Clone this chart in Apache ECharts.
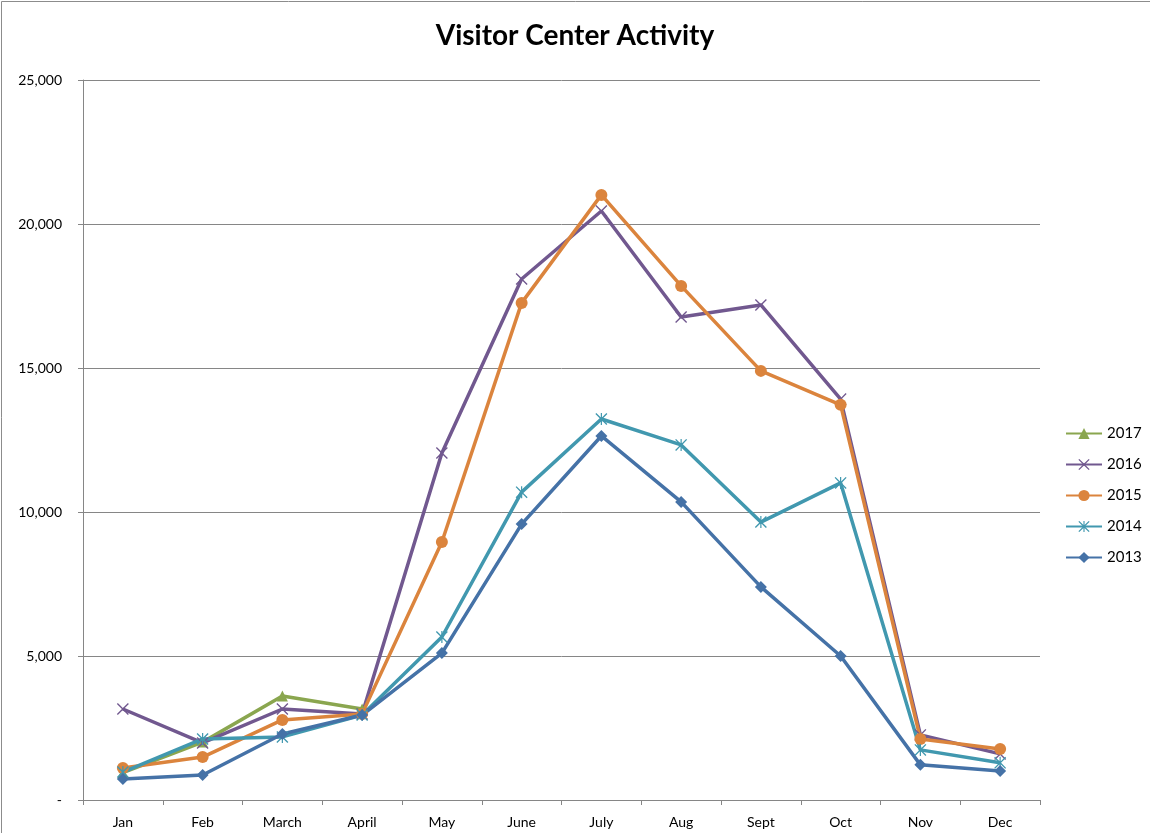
<!DOCTYPE html>
<html>
<head>
<meta charset="utf-8">
<script src="https://cdn.jsdelivr.net/npm/echarts@6/dist/echarts.min.js"></script>
<style>
  body { margin: 0; background: #fff; }
  #chart { width: 1150px; height: 833px; }
</style>
</head>
<body>
<div id="chart"></div>
<script>
let months = ['Jan', 'Feb', 'March', 'April', 'May', 'June', 'July', 'Aug', 'Sept', 'Oct', 'Nov', 'Dec'];

let y2017 = [950, 2010, 3610, 3160, null, null, null, null, null, null, null, null];
let y2016 = [3160, 1980, 3160, 2990, 12050, 18090, 20450, 16770, 17190, 13920, 2260, 1600];
let y2015 = [1110, 1490, 2780, 2990, 8960, 17260, 21010, 17850, 14900, 13720, 2120, 1770];
let y2014 = [970, 2120, 2190, 2950, 5660, 10690, 13230, 12330, 9650, 11010, 1740, 1290];
let y2013 = [730, 870, 2290, 2950, 5100, 9580, 12640, 10350, 7400, 5000, 1220, 1010];

let yTicks = [0, 5000, 10000, 15000, 20000, 25000];

let crossPath = 'path://M0,0.8 L0.8,0 L5,4.2 L9.2,0 L10,0.8 L5.8,5 L10,9.2 L9.2,10 L5,5.8 L0.8,10 L0,9.2 L4.2,5 Z';
let starPath = 'path://M0,0.8 L0.8,0 L5,4.2 L9.2,0 L10,0.8 L5.8,5 L10,9.2 L9.2,10 L5,5.8 L0.8,10 L0,9.2 L4.2,5 Z M4.5,0 L5.5,0 L5.5,10 L4.5,10 Z';

function makeSeries(name, data, color, symbol, size) {
    return {
        name: name,
        type: 'line',
        data: data,
        color: color,
        symbol: symbol,
        symbolSize: size,
        showAllSymbol: true,
        lineStyle: { width: 3.5, color: color },
        itemStyle: { color: color },
        connectNulls: false
    };
}

let myChart = echarts.init(document.getElementById('chart'));

let option = {
    animation: false,
    textStyle: { fontFamily: 'Lato, "Open Sans", sans-serif' },
    title: {
        text: 'Visitor Center Activity',
        left: 'center',
        top: 17,
        textStyle: { fontSize: 28, fontWeight: 'bold', color: '#000', fontFamily: 'Lato, "Open Sans", sans-serif' }
    },
    graphic: [{
        type: 'polyline',
        shape: { points: [[1.5, 833], [1.5, 1.5], [1150, 1.5]] },
        style: { stroke: '#8c8c8c', lineWidth: 1, fill: null }
    }],
    grid: {
        left: 83,
        right: 110,
        top: 80,
        bottom: 33
    },
    legend: {
        orient: 'vertical',
        left: 1060,
        top: 421,
        itemWidth: 36,
        itemHeight: 14,
        itemGap: 16,
        textStyle: { fontSize: 15, color: '#000' },
        data: ['2017', '2016', '2015', '2014', '2013']
    },
    xAxis: {
        type: 'category',
        data: months,
        boundaryGap: true,
        axisLine: { lineStyle: { color: '#868686', width: 1 } },
        axisTick: { show: true, length: 5, lineStyle: { color: '#868686' } },
        axisLabel: { color: '#000', fontSize: 14, margin: 15 }
    },
    yAxis: {
        type: 'value',
        min: 0,
        max: 25000,
        interval: 5000,
        axisLine: { show: true, lineStyle: { color: '#868686', width: 1 } },
        axisTick: { show: true, length: 5, lineStyle: { color: '#868686' } },
        splitLine: { lineStyle: { color: '#868686', width: 1 } },
        axisLabel: {
            color: '#000',
            fontSize: 14,
            margin: 21,
            formatter: function (v) {
                if (yTicks.indexOf(v) < 0) return '';
                return v === 0 ? '-' : v.toLocaleString('en-US');
            }
        }
    },
    series: [
        makeSeries('2017', y2017, '#8AA64F', 'triangle', 11),
        makeSeries('2016', y2016, '#71588F', crossPath, 12),
        makeSeries('2015', y2015, '#DB843D', 'circle', 12),
        makeSeries('2014', y2014, '#4198AF', starPath, 12),
        makeSeries('2013', y2013, '#4572A7', 'diamond', 12)
    ]
};

myChart.setOption(option);
</script>
</body>
</html>
